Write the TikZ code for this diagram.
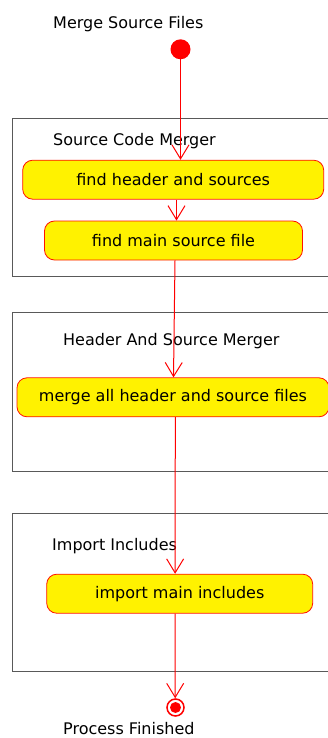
\documentclass[tikz,border=0pt]{standalone}
\usepackage{fontspec}
\setmainfont{DejaVu Sans}
\usetikzlibrary{arrows.meta}
\begin{document}
\begin{tikzpicture}[x=1pt,y=-1pt,
  every node/.style={font=\fontsize{16}{19}\selectfont, inner sep=0pt},
  action/.style={draw=red!85!orange, fill=yellow, rounded corners=10pt,
                 minimum height=39pt, line width=0.8pt},
  frame/.style={draw=black!65, line width=1pt},
  flow/.style={draw=red, line width=1pt,
               -{Straight Barb[length=14pt,width=17pt,line width=1pt]}},
  heading/.style={anchor=base west, text=black}]
  \path[use as bounding box, clip] (0,0) rectangle (328,738);

  % partitions (open to the right)
  \draw[frame] (12,119) rectangle (345,276.5);
  \draw[frame] (12,312.5) rectangle (345,471);
  \draw[frame] (12,513.5) rectangle (345,671.5);

  % headings
  \node[heading] (title) at (53,29) {Merge Source Files};
  \node[heading] (p1) at (53,146) {Source Code Merger};
  \node[heading] (p2) at (63,345.5) {Header And Source Merger};
  \node[heading] (p3) at (52,550) {Import Includes};
  \node[heading] (donetext) at (63,734) {Process Finished};

  % initial and final states
  \node[circle, fill=red, minimum size=20pt] (start) at (180.5,49.3) {};
  \node[circle, draw=red, line width=1.5pt, fill=white, minimum size=17pt] (stop) at (175.5,707.5) {};
  \node[circle, fill=red, minimum size=11pt] (stopcore) at (stop) {};

  % actions
  \node[action, minimum width=301pt] (n1) at (173.2,179.7) {find header and sources};
  \node[action, minimum width=258pt] (n2) at (173.5,240.5) {find main source file};
  \node[action, minimum width=312pt] (n3) at (173,397.3) {merge all header and source files};
  \node[action, minimum width=266pt] (n4) at (179.7,593.7) {import main includes};

  % control flow
  \draw[flow] (start) -- (start |- n1.north);
  \draw[flow] ([xshift=3.3pt]n1.south) -- ([xshift=3.3pt]n1.south |- n2.north);
  \draw[flow] ([xshift=1.5pt]n2.south) -- ([xshift=0.5pt]n3.north);
  \draw[flow] ([xshift=2.3pt]n3.south) -- ([xshift=-4.6pt]n4.north);
  \draw[flow] ([xshift=-4.6pt]n4.south) -- ([xshift=-0.3pt]stop.north);
\end{tikzpicture}
\end{document}
